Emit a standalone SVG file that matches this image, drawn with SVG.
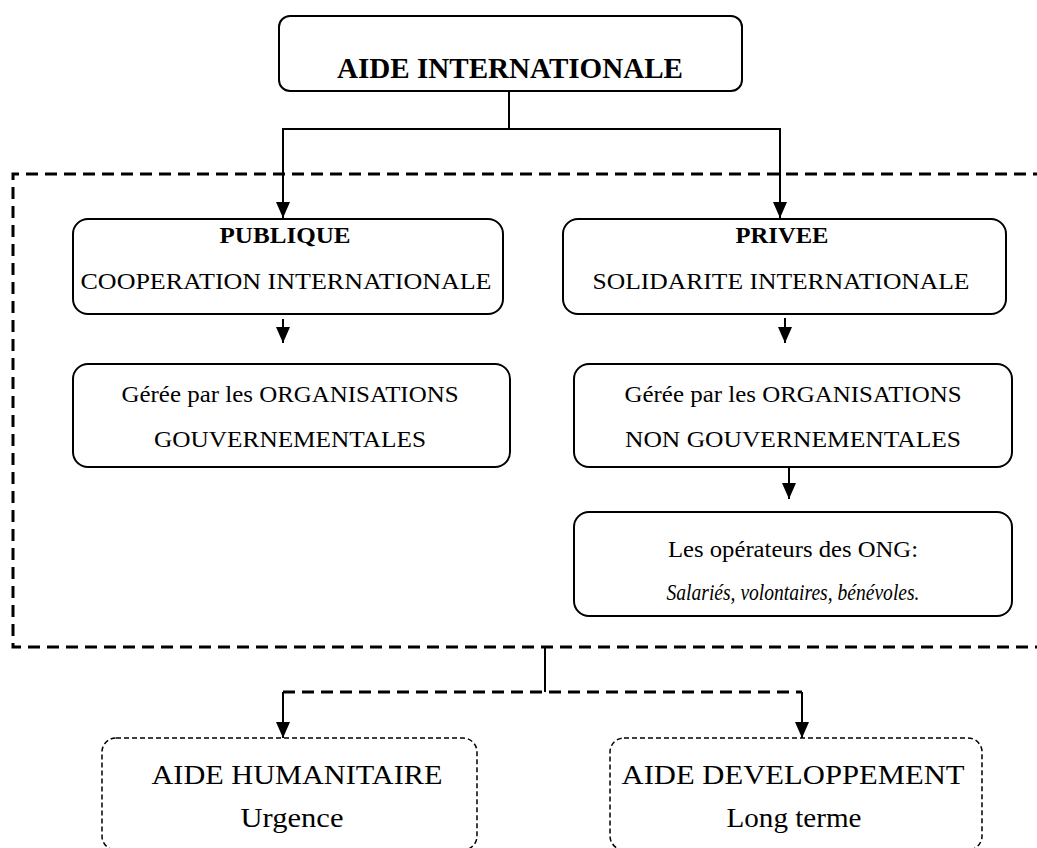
<svg xmlns="http://www.w3.org/2000/svg" width="1037" height="848" viewBox="0 0 1037 848">
  <style>
    text { font-family: "Liberation Serif", "Times New Roman", serif; fill: #000; text-anchor: middle; }
    .box { fill: #fff; stroke: #000; stroke-width: 2; }
    .dbox { fill: none; stroke: #000; stroke-width: 1.5; stroke-dasharray: 5 3; }
    .wire { fill: none; stroke: #000; stroke-width: 2; }
    .dash { fill: none; stroke: #000; stroke-width: 3; stroke-dasharray: 12 7; }
    .t22 { font-size: 23px; }
    .t26 { font-size: 27px; }
  </style>
  <defs>
    <marker id="arrow" markerUnits="userSpaceOnUse" markerWidth="16" markerHeight="14" viewBox="0 0 16 14" refX="16" refY="7" orient="auto">
      <path d="M0,0 L16,7 L0,14 z" fill="#000"/>
    </marker>
  </defs>

  <rect width="1037" height="848" fill="#fff"/>

  <!-- dashed frame grouping public and private branches -->
  <g id="frame">
    <path class="dash" d="M1045,174 H13 V647 H1045"/>
  </g>

  <!-- connectors -->
  <g id="connectors">
    <path class="wire" d="M509,84 V129 H283 V218" marker-end="url(#arrow)"/>
    <path class="wire" d="M509,129 H780 V218" marker-end="url(#arrow)"/>
    <path class="wire" d="M283,319 V343" marker-end="url(#arrow)"/>
    <path class="wire" d="M785,318 V343" marker-end="url(#arrow)"/>
    <path class="wire" d="M789,467 V499" marker-end="url(#arrow)"/>
    <path class="wire" d="M545,647 V692"/>
    <path class="dash" d="M283,692 H802"/>
    <path class="wire" d="M283,692 V738" marker-end="url(#arrow)"/>
    <path class="wire" d="M802,692 V738" marker-end="url(#arrow)"/>
  </g>

  <g id="aide-internationale">
    <rect class="box" x="279" y="16" width="463" height="75" rx="11"/>
    <text x="510" y="78" font-size="29" font-weight="bold" textLength="346" lengthAdjust="spacingAndGlyphs">AIDE INTERNATIONALE</text>
  </g>

  <g id="publique">
    <rect class="box" x="73" y="219" width="430" height="95" rx="15"/>
    <text class="t22" x="285" y="243" font-weight="bold" textLength="131" lengthAdjust="spacingAndGlyphs">PUBLIQUE</text>
    <text class="t22" x="286" y="289" textLength="411" lengthAdjust="spacingAndGlyphs">COOPERATION INTERNATIONALE</text>
  </g>

  <g id="privee">
    <rect class="box" x="563" y="219" width="443" height="95" rx="15"/>
    <text class="t22" x="782" y="243" font-weight="bold" textLength="93" lengthAdjust="spacingAndGlyphs">PRIVEE</text>
    <text class="t22" x="781" y="289" textLength="377" lengthAdjust="spacingAndGlyphs">SOLIDARITE INTERNATIONALE</text>
  </g>

  <g id="org-gouv">
    <rect class="box" x="73" y="364" width="437" height="103" rx="15"/>
    <text class="t22" x="290" y="402" textLength="337" lengthAdjust="spacingAndGlyphs">Gérée par les ORGANISATIONS</text>
    <text class="t22" x="290" y="447" textLength="272" lengthAdjust="spacingAndGlyphs">GOUVERNEMENTALES</text>
  </g>

  <g id="org-non-gouv">
    <rect class="box" x="574" y="364" width="438" height="103" rx="15"/>
    <text class="t22" x="793" y="402" textLength="337" lengthAdjust="spacingAndGlyphs">Gérée par les ORGANISATIONS</text>
    <text class="t22" x="793" y="447" textLength="336" lengthAdjust="spacingAndGlyphs">NON GOUVERNEMENTALES</text>
  </g>

  <g id="operateurs">
    <rect class="box" x="574" y="512" width="438" height="104" rx="15"/>
    <text class="t22" x="793" y="557" textLength="250" lengthAdjust="spacingAndGlyphs">Les opérateurs des ONG:</text>
    <text class="t22" x="793" y="600" font-style="italic" textLength="253" lengthAdjust="spacingAndGlyphs">Salariés, volontaires, bénévoles.</text>
  </g>

  <g id="aide-humanitaire">
    <rect class="dbox" x="102" y="738" width="375" height="112" rx="14"/>
    <text class="t26" x="297" y="784" textLength="291" lengthAdjust="spacingAndGlyphs">AIDE HUMANITAIRE</text>
    <text class="t26" x="292" y="827" textLength="103" lengthAdjust="spacingAndGlyphs">Urgence</text>
  </g>

  <g id="aide-developpement">
    <rect class="dbox" x="610" y="738" width="372" height="112" rx="14"/>
    <text class="t26" x="793" y="784" textLength="343" lengthAdjust="spacingAndGlyphs">AIDE DEVELOPPEMENT</text>
    <text class="t26" x="794" y="827" textLength="135" lengthAdjust="spacingAndGlyphs">Long terme</text>
  </g>
</svg>
